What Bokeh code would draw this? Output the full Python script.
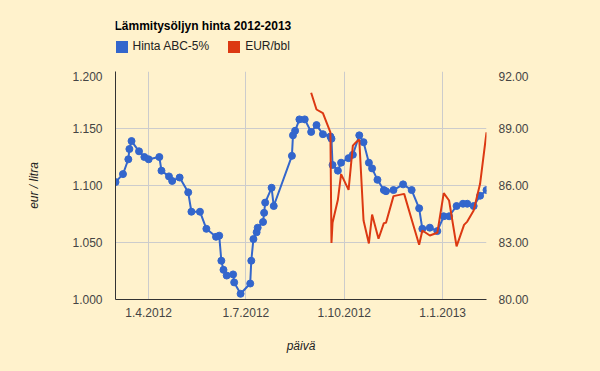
import pandas as pd
from bokeh.plotting import figure
from bokeh.layouts import column
from bokeh.models import (Range1d, LinearAxis, FixedTicker, NumeralTickFormatter,
                          CustomJSTickFormatter, Legend, LegendItem, Label)
from bokeh.core.properties import value
from bokeh.embed import file_html
from bokeh.resources import INLINE

# ---------------- data ----------------
title_text = "Lämmitysöljyn hinta 2012-2013"
blue_name = "Hinta ABC-5%"
red_name = "EUR/bbl"
x_title = "päivä"
y_title = "eur / litra"

blue_dates = [
    "2012-03-01", "2012-03-08", "2012-03-13", "2012-03-14", "2012-03-16", "2012-03-23",
    "2012-03-28", "2012-04-01", "2012-04-11", "2012-04-13", "2012-04-20", "2012-04-23",
    "2012-04-30", "2012-05-08", "2012-05-11", "2012-05-19", "2012-05-25", "2012-06-03",
    "2012-06-06", "2012-06-08", "2012-06-10", "2012-06-13", "2012-06-19", "2012-06-20",
    "2012-06-26", "2012-07-05", "2012-07-06", "2012-07-08", "2012-07-11", "2012-07-12",
    "2012-07-17", "2012-07-18", "2012-07-19", "2012-07-25", "2012-07-27", "2012-08-13",
    "2012-08-14", "2012-08-16", "2012-08-20", "2012-08-25", "2012-08-31", "2012-09-05",
    "2012-09-11", "2012-09-18", "2012-09-19", "2012-09-20", "2012-09-25", "2012-09-28",
    "2012-10-05", "2012-10-09", "2012-10-15", "2012-10-19", "2012-10-24", "2012-10-27",
    "2012-11-01", "2012-11-07", "2012-11-09", "2012-11-16", "2012-11-25", "2012-12-03",
    "2012-12-10", "2012-12-13", "2012-12-20", "2012-12-27", "2013-01-02", "2013-01-07",
    "2013-01-14", "2013-01-20", "2013-01-24", "2013-01-30", "2013-02-05", "2013-02-11",
]
blue_values = [
    1.103, 1.110, 1.123, 1.132, 1.139, 1.130,
    1.125, 1.123, 1.125, 1.113, 1.108, 1.104,
    1.107, 1.094, 1.077, 1.077, 1.062, 1.055,
    1.056, 1.034, 1.026, 1.021, 1.022, 1.015,
    1.005, 1.014, 1.034, 1.053, 1.059, 1.063,
    1.068, 1.076, 1.085, 1.098, 1.082, 1.126,
    1.144, 1.148, 1.158, 1.158, 1.147, 1.153,
    1.145, 1.143, 1.141, 1.118, 1.113, 1.120,
    1.124, 1.127, 1.144, 1.138, 1.120, 1.115,
    1.105, 1.096, 1.095, 1.096, 1.101, 1.096,
    1.080, 1.062, 1.063, 1.060, 1.073, 1.073,
    1.082, 1.084, 1.084, 1.082, 1.091, 1.096,
]

red_dates = [
    "2012-08-31", "2012-09-05", "2012-09-11", "2012-09-18", "2012-09-19", "2012-09-20",
    "2012-09-25", "2012-09-28", "2012-10-05", "2012-10-09", "2012-10-12", "2012-10-15",
    "2012-10-19", "2012-10-24", "2012-10-27", "2012-11-02", "2012-11-07", "2012-11-09",
    "2012-11-16", "2012-11-26", "2012-12-03", "2012-12-10", "2012-12-13", "2012-12-20",
    "2012-12-27", "2013-01-02", "2013-01-07", "2013-01-14", "2013-01-21", "2013-01-24",
    "2013-01-30", "2013-02-05", "2013-02-11",
]
red_values = [
    90.88, 90.00, 89.81, 88.80, 82.98, 84.04,
    85.25, 86.60, 85.77, 88.10, 88.28, 88.42,
    84.16, 82.95, 84.47, 83.20, 84.02, 84.04,
    85.44, 85.56, 84.21, 82.88, 83.63, 83.37,
    83.51, 85.60, 85.21, 82.80, 83.93, 84.10,
    84.68, 86.09, 88.80,
]

x_tick_dates = ["2012-04-01", "2012-07-01", "2012-10-01", "2013-01-01"]
left_ticks = [1.0, 1.05, 1.1, 1.15, 1.2]
right_ticks = [80, 83, 86, 89, 92]

# ---------------- style ----------------
BG = "#fff2cc"
BLUE = "#3366cc"
RED = "#dc3912"
FONT = "Liberation Sans"

bx = pd.to_datetime(blue_dates)
rx = pd.to_datetime(red_dates)
tick_ms = [t.timestamp() * 1000 for t in pd.to_datetime(x_tick_dates)]

# ---------------- header (title + legend) ----------------
head = figure(width=600, height=71, x_range=Range1d(0, 1), y_range=Range1d(0, 1),
              x_axis_location=None, y_axis_location=None, title=None,
              output_backend="svg", toolbar_location=None, min_border=0,
              background_fill_color=BG, border_fill_color=BG, outline_line_color=None)
head.xgrid.visible = False
head.ygrid.visible = False

nan = float("nan")
sw_b = head.quad(left=[nan], right=[nan], top=[nan], bottom=[nan], fill_color=BLUE, line_color=None)
sw_r = head.quad(left=[nan], right=[nan], top=[nan], bottom=[nan], fill_color=RED, line_color=None)
legend = Legend(items=[LegendItem(label=value(blue_name), renderers=[sw_b]),
                       LegendItem(label=value(red_name), renderers=[sw_r])],
                location=(-1.5, 17.5), orientation="horizontal",
                glyph_width=15, glyph_height=15, label_height=15,
                padding=0, margin=0, spacing=17, label_standoff=4,
                background_fill_alpha=0, border_line_alpha=0,
                label_text_font=FONT, label_text_font_size="12px",
                label_text_color="#222222")
head.add_layout(legend, "center")
head.add_layout(Label(x=-1, y=46, x_units="screen", y_units="screen", text=title_text,
                      text_font=FONT, text_font_size="12px", text_font_style="bold",
                      text_color="#000000", text_baseline="alphabetic", text_align="left"))

# ---------------- main chart ----------------
p = figure(width=600, height=300, x_axis_type="datetime",
           x_range=Range1d(bx.min(), bx.max()),
           y_range=Range1d(left_ticks[0], left_ticks[-1]),
           output_backend="svg", toolbar_location=None,
           min_border_left=115, min_border_right=114,
           min_border_top=0, min_border_bottom=72,
           background_fill_color=BG, border_fill_color=BG,
           outline_line_color=None)
p.title.visible = False
p.extra_y_ranges = {"eur": Range1d(right_ticks[0], right_ticks[-1])}

p.xgrid.grid_line_color = "#cccccc"
p.ygrid.grid_line_color = "#cccccc"

xa = p.xaxis[0]
xa.ticker = FixedTicker(ticks=tick_ms)
xa.formatter = CustomJSTickFormatter(code="""
const d = new Date(tick);
return d.getUTCDate() + "." + (d.getUTCMonth() + 1) + "." + d.getUTCFullYear();
""")
xa.axis_line_color = "#333333"
xa.major_tick_line_color = None
xa.minor_tick_line_color = None
xa.major_tick_out = 0
xa.major_tick_in = 0
xa.major_label_standoff = 8
xa.major_label_text_font = FONT
xa.major_label_text_font_size = "12px"
xa.major_label_text_color = "#444444"
xa.axis_label = x_title
xa.axis_label_standoff = 19
xa.axis_label_text_font = FONT
xa.axis_label_text_font_size = "12px"
xa.axis_label_text_font_style = "italic"
xa.axis_label_text_color = "#222222"

ya = p.yaxis[0]
ya.ticker = FixedTicker(ticks=left_ticks)
ya.formatter = NumeralTickFormatter(format="0.000")
ya.axis_line_color = "#333333"
ya.major_tick_line_color = None
ya.minor_tick_line_color = None
ya.major_tick_out = 0
ya.major_tick_in = 0
ya.major_label_standoff = 13
ya.major_label_text_font = FONT
ya.major_label_text_font_size = "12px"
ya.major_label_text_color = "#444444"
ya.axis_label = y_title
ya.axis_label_standoff = 28
ya.axis_label_text_font = FONT
ya.axis_label_text_font_size = "12px"
ya.axis_label_text_font_style = "italic"
ya.axis_label_text_color = "#222222"

ra = LinearAxis(y_range_name="eur", ticker=FixedTicker(ticks=right_ticks),
                formatter=NumeralTickFormatter(format="0.00"),
                axis_line_color=None, major_tick_line_color=None,
                minor_tick_line_color=None, major_tick_out=0, major_tick_in=0,
                major_label_standoff=12, major_label_text_font=FONT,
                major_label_text_font_size="12px", major_label_text_color="#444444")
p.add_layout(ra, "right")

p.line(bx, blue_values, line_color=BLUE, line_width=2)
p.scatter(bx, blue_values, size=7, fill_color=BLUE, line_color=BLUE, line_width=1)
p.line(rx, red_values, line_color=RED, line_width=2, y_range_name="eur")

page = column(head, p, spacing=0, styles={"background-color": BG})

open("out.html", "w").write(file_html(page, INLINE))
